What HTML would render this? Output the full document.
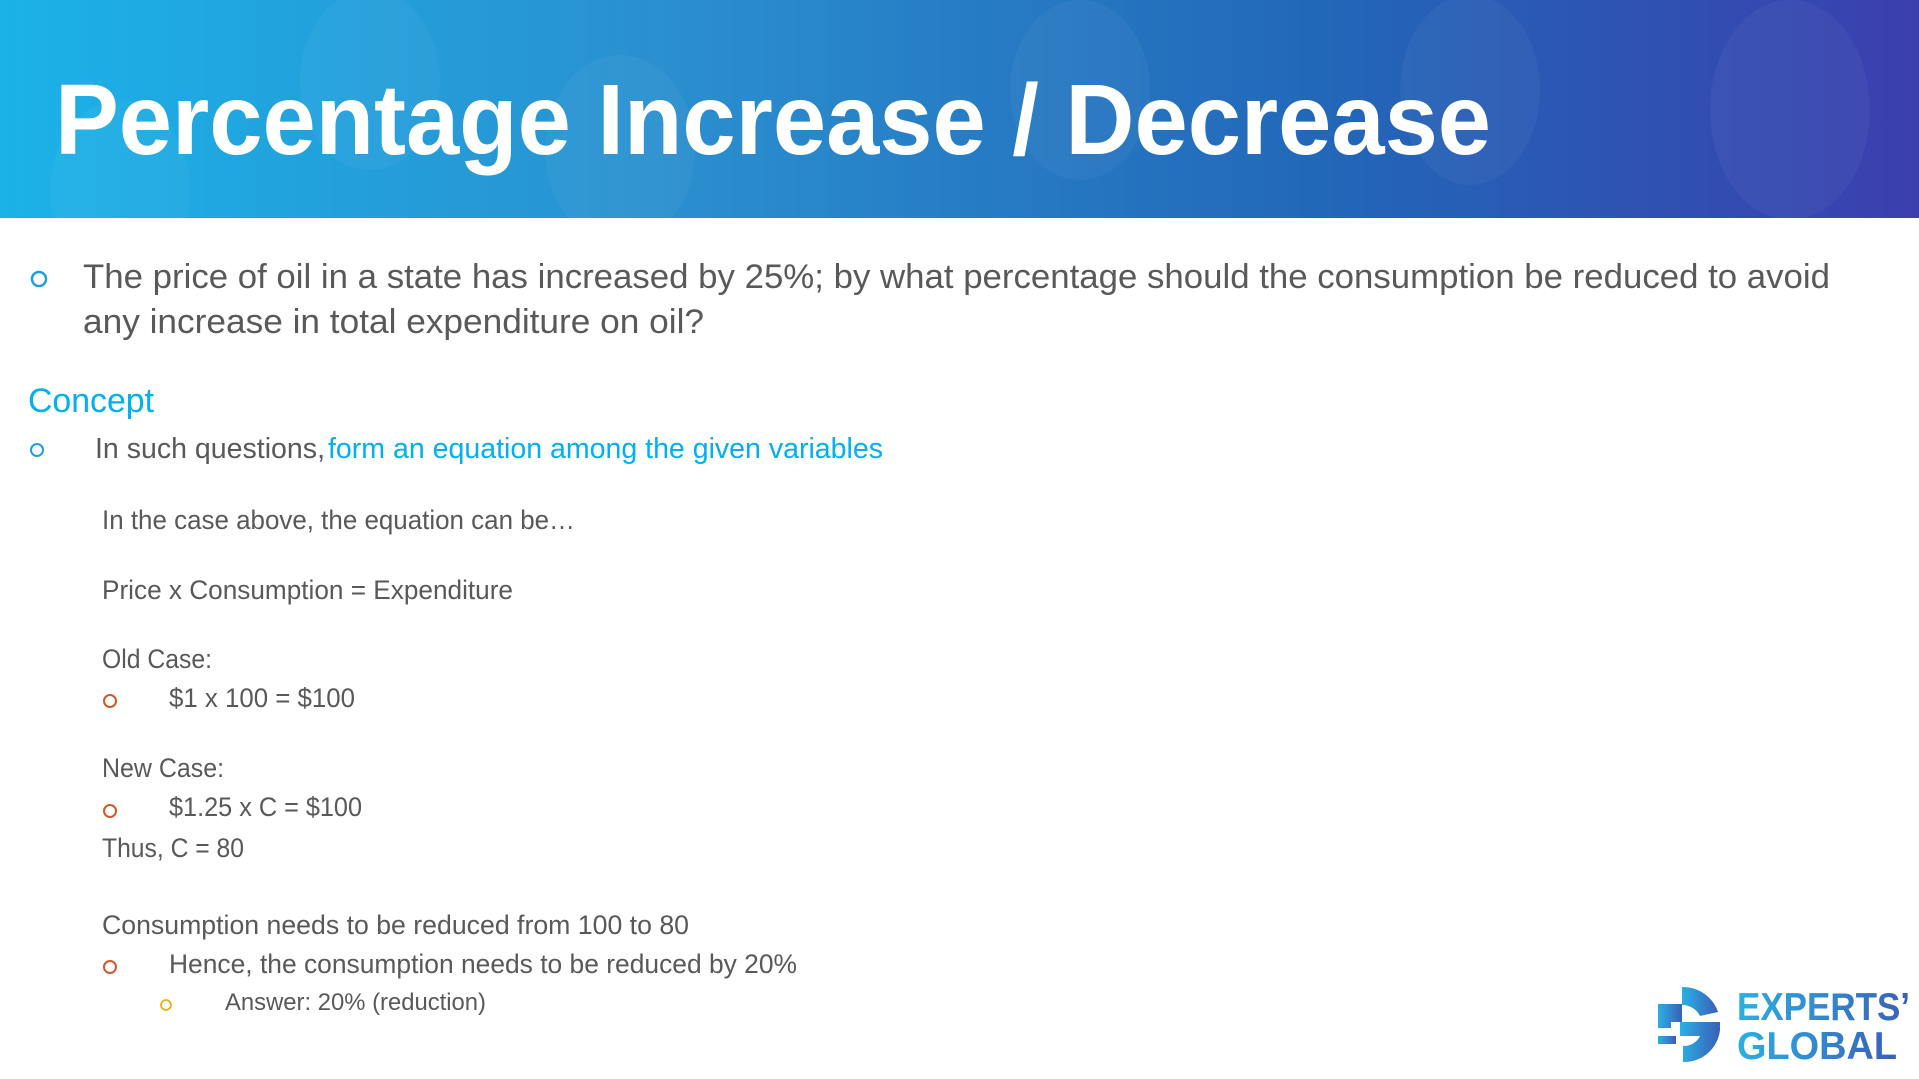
<!DOCTYPE html>
<html><head><meta charset="utf-8"><style>
html,body{margin:0;padding:0;background:#fff;width:1919px;height:1079px;overflow:hidden}
</style></head><body>
<svg width="1919" height="1079" viewBox="0 0 1919 1079" xmlns="http://www.w3.org/2000/svg" font-family="'Liberation Sans', sans-serif">
<defs>
<linearGradient id="hg" x1="0" y1="0" x2="1" y2="0">
<stop offset="0" stop-color="#1bb2e8"/>
<stop offset="0.35" stop-color="#2a8fcf"/>
<stop offset="0.7" stop-color="#2266b8"/>
<stop offset="1" stop-color="#3b3fae"/>
</linearGradient>
<linearGradient id="lg" x1="0" y1="0" x2="1" y2="0">
<stop offset="0" stop-color="#2ab0e4"/>
<stop offset="1" stop-color="#3a5fb8"/>
</linearGradient>
</defs>
<rect x="0" y="0" width="1919" height="218" fill="url(#hg)"/>
<g fill="#ffffff" opacity="0.04">
<ellipse cx="120" cy="190" rx="70" ry="90"/><ellipse cx="370" cy="80" rx="70" ry="90"/>
<ellipse cx="620" cy="150" rx="75" ry="95"/><ellipse cx="1080" cy="90" rx="70" ry="90"/>
<ellipse cx="1470" cy="90" rx="70" ry="95"/><ellipse cx="1790" cy="110" rx="80" ry="110"/>
</g>
<text x="55" y="154" font-size="100" font-weight="bold" fill="#fff" textLength="1436" lengthAdjust="spacingAndGlyphs">Percentage Increase / Decrease</text>

<g fill="none" stroke-width="2.5">
<circle cx="39" cy="279" r="7" stroke="#1f9ee0"/>
<circle cx="37" cy="450" r="6" stroke="#1f9ee0" stroke-width="2"/>
<circle cx="110" cy="701" r="6" stroke="#d0582a" stroke-width="2"/>
<circle cx="110" cy="811" r="6" stroke="#d0582a" stroke-width="2"/>
<circle cx="110" cy="967" r="6" stroke="#d0582a" stroke-width="2"/>
<circle cx="166" cy="1005" r="5" stroke="#e8b020" stroke-width="1.8"/>
</g>
<g fill="#595959">
<text x="83" y="288" font-size="34" textLength="1747" lengthAdjust="spacingAndGlyphs">The price of oil in a state has increased by 25%; by what percentage should the consumption be reduced to avoid</text>
<text x="83" y="333" font-size="34" textLength="621" lengthAdjust="spacingAndGlyphs">any increase in total expenditure on oil?</text>
<text x="28" y="412" font-size="34" fill="#00b0f0" textLength="126" lengthAdjust="spacingAndGlyphs">Concept</text>
<text x="95" y="458" font-size="29" textLength="230" lengthAdjust="spacingAndGlyphs">In such questions,</text>
<text x="328" y="458" font-size="29" fill="#00b0f0" textLength="555" lengthAdjust="spacingAndGlyphs">form an equation among the given variables</text>
<text x="102" y="529" font-size="27" textLength="473" lengthAdjust="spacingAndGlyphs">In the case above, the equation can be…</text>
<text x="102" y="599" font-size="27" textLength="411" lengthAdjust="spacingAndGlyphs">Price x Consumption = Expenditure</text>
<text x="102" y="668" font-size="27" textLength="110" lengthAdjust="spacingAndGlyphs">Old Case:</text>
<text x="169" y="707" font-size="27" textLength="186" lengthAdjust="spacingAndGlyphs">$1 x 100 = $100</text>
<text x="102" y="777" font-size="27" textLength="122" lengthAdjust="spacingAndGlyphs">New Case:</text>
<text x="169" y="816" font-size="27" textLength="193" lengthAdjust="spacingAndGlyphs">$1.25 x C = $100</text>
<text x="102" y="857" font-size="27" textLength="142" lengthAdjust="spacingAndGlyphs">Thus, C = 80</text>
<text x="102" y="934" font-size="27" textLength="587" lengthAdjust="spacingAndGlyphs">Consumption needs to be reduced from 100 to 80</text>
<text x="169" y="973" font-size="27" textLength="628" lengthAdjust="spacingAndGlyphs">Hence, the consumption needs to be reduced by 20%</text>
<text x="225" y="1010" font-size="24" textLength="261" lengthAdjust="spacingAndGlyphs">Answer: 20% (reduction)</text>
</g>

<g fill="url(#lg)">
<path d="M1682 987 A37 37 0 0 1 1718 1012 L1700 1016 A20 20 0 0 0 1682 1005 Z"/>
<path d="M1658 1004 L1682 1004 L1682 1022 L1671 1022 L1671 1028 L1658 1028 Z"/>
<path d="M1680 1022 L1720 1022 L1720 1030 A36 36 0 0 1 1683 1062 L1683 1046 A18 18 0 0 0 1700 1036 L1680 1036 Z"/>
<path d="M1658 1036 L1676 1036 L1676 1044 L1658 1044 Z"/>
</g>
<text x="1737" y="1020" font-size="39" font-weight="bold" fill="url(#lg)" textLength="173" lengthAdjust="spacingAndGlyphs">EXPERTS’</text>
<text x="1737" y="1059" font-size="39" font-weight="bold" fill="url(#lg)" textLength="160" lengthAdjust="spacingAndGlyphs">GLOBAL</text>
</svg>
</body></html>
